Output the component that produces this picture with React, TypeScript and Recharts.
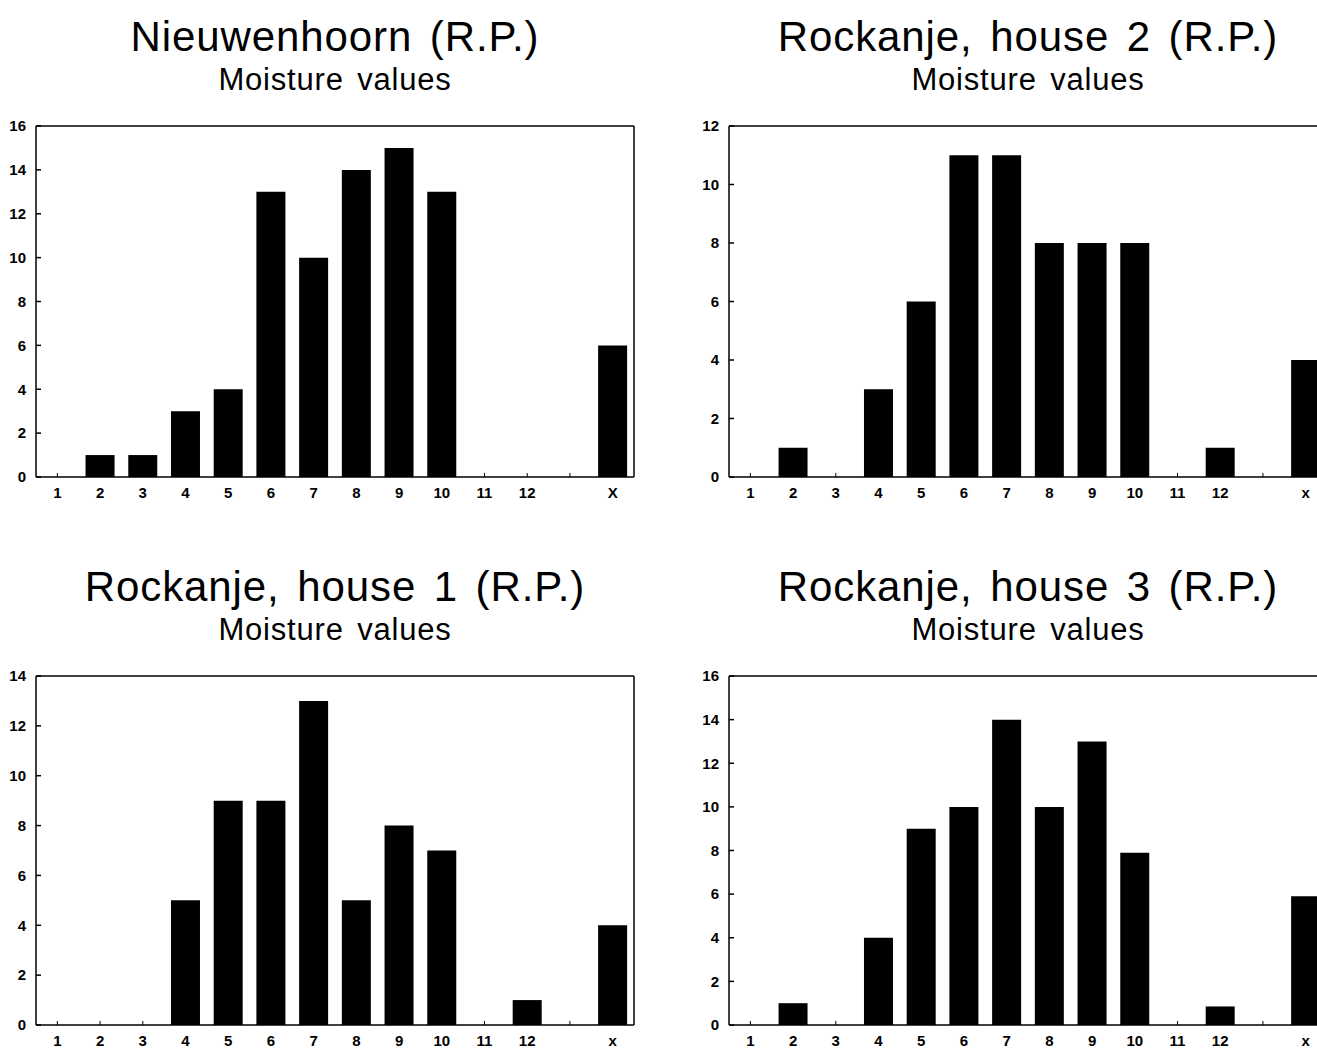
import { Bar, BarChart, XAxis, YAxis } from "recharts";

// moisture value classes: 1..12, an empty slot, and the "x" class
const CLASSES = ["1", "2", "3", "4", "5", "6", "7", "8", "9", "10", "11", "12", "", "x"];

const NIEUWENHOORN = [0, 1, 1, 3, 4, 13, 10, 14, 15, 13, 0, 0, null, 6];
const ROCKANJE_2 = [0, 1, 0, 3, 6, 11, 11, 8, 8, 8, 0, 1, null, 4];
const ROCKANJE_1 = [0, 0, 0, 5, 9, 9, 13, 5, 8, 7, 0, 1, null, 4];
const ROCKANJE_3 = [0, 1, 0, 4, 9, 10, 14, 10, 13, 7.9, 0, 0.85, null, 5.9];

const TICKS_16 = [0, 2, 4, 6, 8, 10, 12, 14, 16];
const TICKS_14 = [0, 2, 4, 6, 8, 10, 12, 14];
const TICKS_12 = [0, 2, 4, 6, 8, 10, 12];

const FONT = '"Liberation Sans", Arial, Helvetica, sans-serif';
const TICK_STYLE = { fill: "#000", fontSize: 15, fontWeight: 700, fontFamily: FONT } as const;
const LINE = { stroke: "#000", strokeWidth: 1.5 } as const;

function Panel({
  title,
  values,
  ticks,
  upperX = false,
  left,
  top,
  height,
}: {
  title: string;
  values: (number | null)[];
  ticks: number[];
  upperX?: boolean;
  left: number;
  top: number;
  height: number;
}) {
  const data = CLASSES.map((c, i) => ({
    cat: c === "x" && upperX ? "X" : c,
    v: values[i],
  }));
  const max = ticks[ticks.length - 1];
  return (
    <>
      <div
        style={{
          position: "absolute",
          left: left + 36,
          width: 598,
          top: top - 110,
          textAlign: "center",
          fontFamily: FONT,
          color: "#000",
          lineHeight: 1,
          whiteSpace: "nowrap",
        }}
      >
        <div style={{ fontSize: 42, letterSpacing: 0.9, wordSpacing: 5, marginTop: 16 }}>{title}</div>
        <div style={{ fontSize: 31, letterSpacing: 0.8, wordSpacing: 4, marginTop: 6 }}>Moisture values</div>
      </div>
      <div style={{ position: "absolute", left, top }}>
        <BarChart
          width={640}
          height={height}
          data={data}
          margin={{ top: 15, right: 5, bottom: 3, left: 0 }}
          barCategoryGap="16%"
        >
          <XAxis
            dataKey="cat"
            interval={0}
            height={30}
            tick={TICK_STYLE}
            tickSize={-4}
            tickMargin={14}
            axisLine={LINE}
            tickLine={{ stroke: "#000" }}
          />
          {/* frame: top and right edges */}
          <XAxis
            xAxisId="top"
            orientation="top"
            dataKey="cat"
            height={1}
            tick={false}
            tickLine={false}
            axisLine={LINE}
          />
          <YAxis
            width={36}
            domain={[0, max]}
            ticks={ticks}
            interval={0}
            tick={TICK_STYLE}
            tickSize={-5}
            tickMargin={15}
            axisLine={LINE}
            tickLine={LINE}
          />
          <YAxis
            yAxisId="r"
            orientation="right"
            width={1}
            domain={[0, max]}
            tick={false}
            tickLine={false}
            axisLine={LINE}
          />
          <Bar dataKey="v" fill="#000" isAnimationActive={false} />
        </BarChart>
      </div>
    </>
  );
}

export default function App() {
  return (
    <div
      style={{
        position: "absolute",
        left: 0,
        top: 0,
        width: 1317,
        height: 1051,
        overflow: "hidden",
        background: "#fff",
      }}
    >
      <Panel title="Nieuwenhoorn (R.P.)" values={NIEUWENHOORN} ticks={TICKS_16} upperX left={0} top={110} height={400} />
      <Panel title="Rockanje, house 2 (R.P.)" values={ROCKANJE_2} ticks={TICKS_12} left={693} top={110} height={400} />
      <Panel title="Rockanje, house 1 (R.P.)" values={ROCKANJE_1} ticks={TICKS_14} left={0} top={660} height={398} />
      <Panel title="Rockanje, house 3 (R.P.)" values={ROCKANJE_3} ticks={TICKS_16} left={693} top={660} height={398} />
    </div>
  );
}
